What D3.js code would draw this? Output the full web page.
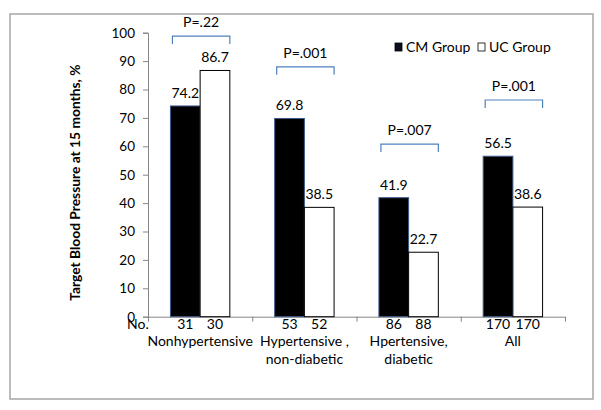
<!DOCTYPE html>
<html>
<head>
<meta charset="utf-8">
<script src="https://cdn.jsdelivr.net/npm/d3@7"></script>
<style>
  html, body { margin: 0; padding: 0; background: #fff; }
  svg { display: block; }
  text { font-family: Lato, "Open Sans", sans-serif; fill: #000; }
</style>
</head>
<body>
<svg id="chart" width="601" height="410"></svg>
<script>
// ---- data ----
const categories = ["Nonhypertensive", "Hypertensive , non-diabetic", "Hpertensive, diabetic", "All"];
const categoryLines = [["Nonhypertensive"], ["Hypertensive ,", "non-diabetic"], ["Hpertensive,", "diabetic"], ["All"]];
const seriesNames = ["CM Group", "UC Group"];
const cmValues = [74.2, 69.8, 41.9, 56.5];
const ucValues = [86.7, 38.5, 22.7, 38.6];
const cmCounts = [31, 53, 86, 170];
const ucCounts = [30, 52, 88, 170];
const pLabels = ["P=.22", "P=.001", "P=.007", "P=.001"];
const pLevels = [98.8, 88, 60.8, 76.3];
const yTicks = [0, 10, 20, 30, 40, 50, 60, 70, 80, 90, 100];

// ---- layout ----
const svg = d3.select("#chart");
const plot = { left: 148, right: 565, top: 32.7, bottom: 316.7 };
const fs = 14;

svg.append("rect")
  .attr("x", 10).attr("y", 14).attr("width", 583).attr("height", 385)
  .attr("fill", "#fff").attr("stroke", "#a6a6a6").attr("stroke-width", 1.5);

const x0 = d3.scaleBand().domain(categories).range([plot.left, plot.right]).padding(0);
const x1 = d3.scaleBand().domain(seriesNames).range([0, x0.bandwidth()]).paddingInner(0).paddingOuter(0.755);
const y = d3.scaleLinear().domain([0, 100]).range([plot.bottom, plot.top]);

const fills = { "CM Group": "#000", "UC Group": "#fff" };
const strokes = { "CM Group": "#3c5a8a", "UC Group": "#000" };

const rows = categories.map((c, i) => ({
  cat: c, i,
  vals: [
    { s: "CM Group", v: cmValues[i], n: cmCounts[i] },
    { s: "UC Group", v: ucValues[i], n: ucCounts[i] }
  ]
}));

// Y axis
const yAxis = d3.axisLeft(y).tickValues(yTicks).tickSize(5).tickPadding(8);
const gy = svg.append("g").attr("transform", `translate(${plot.left},0)`).call(yAxis);
gy.select(".domain").attr("stroke", "#868686");
gy.selectAll(".tick line").attr("stroke", "#868686");
gy.selectAll(".tick text").attr("font-size", 13.5).attr("font-family", "Lato, sans-serif").attr("fill", "#000");

// X axis (category boundaries)
const xTickPositions = categories.map(c => x0(c)).concat([plot.right]);
const xScaleLin = d3.scaleIdentity().domain([plot.left, plot.right]);
const xAxis = d3.axisBottom(xScaleLin).tickValues(xTickPositions).tickSize(5).tickFormat("").tickSizeOuter(0);
const gx = svg.append("g").attr("transform", `translate(0,${plot.bottom})`).call(xAxis);
gx.select(".domain").attr("stroke", "#868686");
gx.selectAll(".tick line").attr("stroke", "#868686");

// Bars
const groups = svg.append("g").selectAll("g").data(rows).join("g")
  .attr("transform", d => `translate(${x0(d.cat)},0)`);

groups.selectAll("rect").data(d => d.vals).join("rect")
  .attr("x", d => x1(d.s))
  .attr("y", d => y(d.v))
  .attr("width", x1.bandwidth())
  .attr("height", d => y(0) - y(d.v))
  .attr("fill", d => fills[d.s])
  .attr("stroke", d => strokes[d.s])
  .attr("stroke-width", 1);

// Value labels
groups.selectAll("text.val").data(d => d.vals).join("text")
  .attr("class", "val")
  .attr("x", d => x1(d.s) + x1.bandwidth() / 2)
  .attr("y", d => y(d.v) - 8)
  .attr("text-anchor", "middle")
  .attr("font-size", fs)
  .text(d => d.v.toFixed(1));

// Counts
groups.selectAll("text.cnt").data(d => d.vals).join("text")
  .attr("class", "cnt")
  .attr("x", d => x1(d.s) + x1.bandwidth() / 2)
  .attr("y", plot.bottom + 12)
  .attr("text-anchor", "middle")
  .attr("font-size", fs)
  .text(d => d.n);

// Category labels
groups.each(function(d) {
  const t = d3.select(this).append("text")
    .attr("x", x0.bandwidth() / 2)
    .attr("y", plot.bottom + 29)
    .attr("text-anchor", "middle")
    .attr("font-size", fs);
  categoryLines[d.i].forEach((line, k) => {
    t.append("tspan").attr("x", x0.bandwidth() / 2).attr("dy", k === 0 ? 0 : 18).text(line);
  });
});

// "No." label
svg.append("text")
  .attr("x", 127).attr("y", plot.bottom + 12)
  .attr("font-size", fs)
  .text("No.");

// P-value brackets
groups.each(function(d) {
  const g = d3.select(this);
  const xl = x1("CM Group") + 2;
  const xr = x1("UC Group") + x1.bandwidth();
  const yt = y(pLevels[d.i]);
  const yb = yt + 8;
  g.append("path")
    .attr("d", `M${xl},${yb}V${yt}H${xr}V${yb}`)
    .attr("fill", "none")
    .attr("stroke", "#4f81bd")
    .attr("stroke-width", 1.2);
  g.append("text")
    .attr("x", (xl + xr) / 2)
    .attr("y", yt - 9)
    .attr("text-anchor", "middle")
    .attr("font-size", fs)
    .text(pLabels[d.i]);
});

// Y axis title
svg.append("text")
  .attr("transform", `translate(80,${(plot.top + plot.bottom) / 2 + 8}) rotate(-90)`)
  .attr("text-anchor", "middle")
  .attr("font-size", 13.8)
  .attr("font-weight", "bold")
  .text("Target Blood Pressure at 15 months, %");

// Legend
const legend = svg.append("g").attr("transform", "translate(395,43)");
const legendX = [0, 83];
seriesNames.forEach((s, i) => {
  legend.append("rect")
    .attr("x", legendX[i]).attr("y", 0).attr("width", 7).attr("height", 8)
    .attr("fill", s === "CM Group" ? "#0a0f1e" : "#fff")
    .attr("stroke", "#000").attr("stroke-width", 0.8);
  legend.append("text")
    .attr("x", legendX[i] + 11).attr("y", 8.5)
    .attr("font-size", fs)
    .text(s);
});
</script>
</body>
</html>
